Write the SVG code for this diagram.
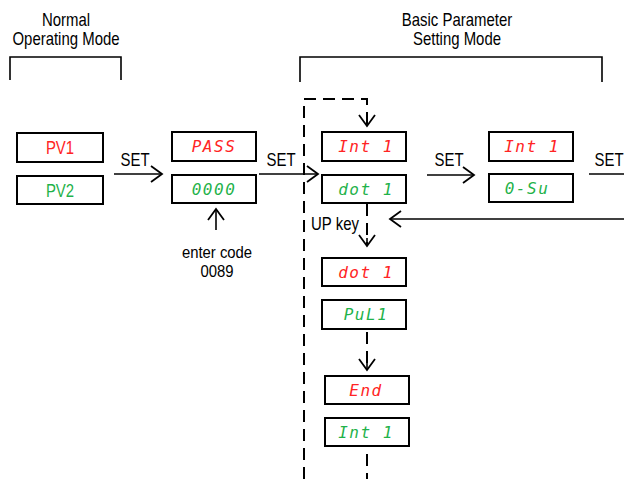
<svg xmlns="http://www.w3.org/2000/svg" width="624" height="479" viewBox="0 0 624 479">
<style>
.t{font-family:"Liberation Sans",Arial,sans-serif;font-size:18px;fill:#000;text-anchor:middle}
.s{font-size:16px}
.box{fill:#fff;stroke:#000;stroke-width:2}
.seg{font-family:"DejaVu Sans Mono",monospace;font-style:italic;font-size:16px;text-anchor:middle;letter-spacing:1.5px}
.r{fill:#ff2424}
.g{fill:#1fb24a}
.ln{fill:none;stroke:#000;stroke-width:1.6}
.ds{fill:none;stroke:#000;stroke-width:2;stroke-dasharray:12 7}
.br{fill:none;stroke:#000;stroke-width:1.6}
</style>
<defs>
<marker id="ah" markerWidth="14" markerHeight="18" refX="12" refY="9" orient="auto" markerUnits="userSpaceOnUse">
<path d="M1,1 L12,9 L1,17" fill="none" stroke="#000" stroke-width="1.8"/>
</marker>
</defs>
<rect width="624" height="479" fill="#fff"/>
<g id="titles">
<text class="t" transform="translate(66 26) scale(0.83 1)">Normal</text>
<text class="t" transform="translate(66 45) scale(0.83 1)">Operating Mode</text>
<text class="t" transform="translate(457 26) scale(0.83 1)">Basic Parameter</text>
<text class="t" transform="translate(457 45) scale(0.83 1)">Setting Mode</text>
<path class="br" d="M10,80 V57 H121 V80"/>
<path class="br" d="M300,82 V57 H602 V82"/>
</g>
<g id="connectors">
<line class="ln" x1="114" y1="174" x2="162" y2="174" marker-end="url(#ah)"/>
<text class="t" transform="translate(135 166) scale(0.83 1)">SET</text>
<line class="ln" x1="259" y1="174" x2="318" y2="174" marker-end="url(#ah)"/>
<text class="t" transform="translate(281 166) scale(0.83 1)">SET</text>
<line class="ln" x1="427" y1="175" x2="474" y2="175" marker-end="url(#ah)"/>
<text class="t" transform="translate(449 166) scale(0.83 1)">SET</text>
<line class="ln" x1="589" y1="174" x2="624" y2="174"/>
<text class="t" transform="translate(609 166) scale(0.83 1)">SET</text>
<line class="ln" x1="624" y1="219" x2="390" y2="219" marker-end="url(#ah)"/>
<line class="ln" x1="216" y1="230" x2="216" y2="209" marker-end="url(#ah)"/>
<path class="ds" d="M304,479 V99 H367 V126"/>
<path class="ln" d="M367,118 V126" marker-end="url(#ah)"/>
<path class="ds" d="M367,204 V246"/>
<path class="ln" d="M367,238 V246" marker-end="url(#ah)"/>
<path class="ds" d="M367,332 V370" stroke-dasharray="15 24"/>
<path class="ln" d="M367,362 V370" marker-end="url(#ah)"/>
<path class="ds" d="M367,454 V479"/>
<text class="t" transform="translate(335 230) scale(0.83 1)">UP key</text>
<text class="t s" transform="translate(217 258) scale(0.93 1)">enter code</text>
<text class="t s" transform="translate(217 277) scale(0.93 1)">0089</text>
</g>
<g id="pv1"><rect class="box" x="17" y="133" width="86" height="29"/><text class="t r" transform="translate(60 154) scale(0.83 1)">PV1</text></g>
<g id="pv2"><rect class="box" x="17" y="176" width="86" height="28"/><text class="t g" transform="translate(60 196.5) scale(0.83 1)">PV2</text></g>
<g id="pass"><rect class="box" x="172" y="132" width="84" height="29"/><text class="seg r" x="214" y="152">PASS</text></g>
<g id="code"><rect class="box" x="172" y="175" width="84" height="28"/><text class="seg g" x="214" y="195">0000</text></g>
<g id="int1a"><rect class="box" x="322" y="132" width="84" height="29"/><text class="seg r" x="366" y="152">Int 1</text></g>
<g id="dot1a"><rect class="box" x="322" y="175" width="84" height="28"/><text class="seg g" x="366" y="195">dot 1</text></g>
<g id="int1b"><rect class="box" x="489" y="132" width="84" height="29"/><text class="seg r" x="532" y="152">Int 1</text></g>
<g id="osu"><rect class="box" x="489" y="174" width="84" height="28"/><text class="seg g" x="527" y="194">0-Su</text></g>
<g id="dot1b"><rect class="box" x="322" y="258" width="84" height="28"/><text class="seg r" x="366" y="278">dot 1</text></g>
<g id="pul1"><rect class="box" x="322" y="300" width="84" height="29"/><text class="seg g" x="366" y="320">PuL1</text></g>
<g id="end"><rect class="box" x="325" y="376" width="84" height="28"/><text class="seg r" x="366" y="396">End</text></g>
<g id="int1c"><rect class="box" x="325" y="418" width="84" height="28"/><text class="seg g" x="366" y="438">Int 1</text></g>
</svg>
